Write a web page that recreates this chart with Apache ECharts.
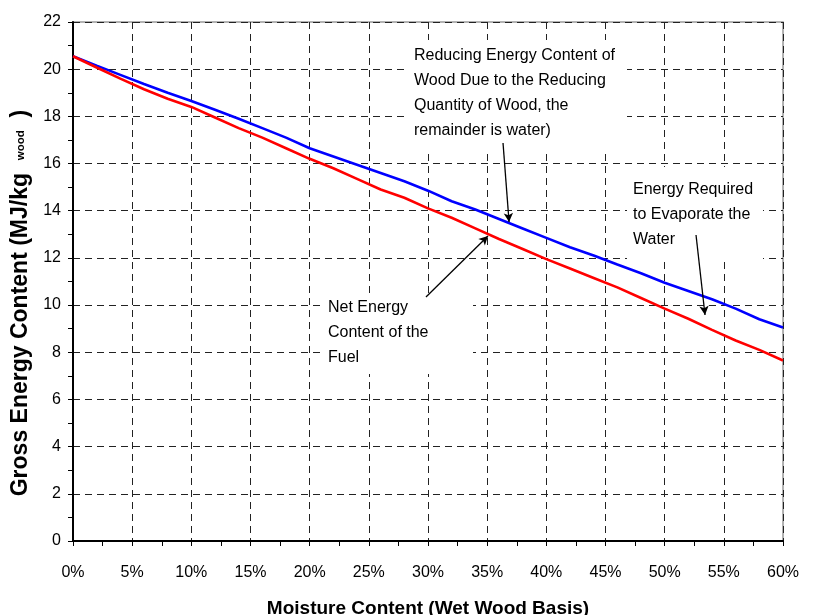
<!DOCTYPE html>
<html>
<head>
<meta charset="utf-8">
<script src="https://cdn.jsdelivr.net/npm/echarts@6/dist/echarts.min.js"></script>
<style>
html,body{margin:0;padding:0;background:#fff;}
#chart{width:814px;height:615px;}
</style>
</head>
<body>
<div id="chart"></div>
<script>
// Moisture content (% wet wood basis)
const moisturePct = [0,2,4,6,8,10,12,14,16,18,20,22,24,26,28,30,32,34,36,38,40,42,44,46,48,50,52,54,56,58,60];
// Gross energy content of the wood (blue), MJ/kg wood
const grossEnergy = [20.55,20.15,19.76,19.37,19.0,18.65,18.28,17.9,17.5,17.1,16.65,16.3,15.95,15.6,15.25,14.85,14.4,14.05,13.65,13.25,12.85,12.45,12.1,11.72,11.35,10.95,10.6,10.25,9.85,9.4,9.05];
// Net energy content of the fuel (red), MJ/kg wood
const netEnergy = [20.55,20.07,19.6,19.15,18.75,18.4,17.95,17.5,17.1,16.65,16.2,15.8,15.35,14.9,14.55,14.1,13.7,13.25,12.8,12.38,11.95,11.55,11.15,10.75,10.3,9.85,9.42,8.95,8.5,8.1,7.65];

// Annotation arrows (data coordinates: [moisture %, MJ/kg])
const arrowReducing = [[36.34,16.87],[36.85,13.52]];
const arrowNet = [[29.83,10.34],[35.07,12.93]];
const arrowEvaporate = [[52.65,12.97],[53.41,9.58]];

// Annotation texts
const noteReducing = ['Reducing Energy Content of','Wood Due to the Reducing','Quantity of Wood, the','remainder is water)'];
const noteNet = ['Net Energy','Content of the','Fuel'];
const noteEvaporate = ['Energy Required','to Evaporate the','Water'];

const FONT = 'Arial, "Liberation Sans", sans-serif';

const chart = echarts.init(document.getElementById('chart'), null, {renderer:'canvas'});

function pairs(xs, ys){ return xs.map((x,i)=>[x, ys[i]]); }

function noteGroup(lines, left, top, box){
  return {
    type:'group',
    z: 5,
    children:[
      {type:'rect', z:5, shape:{x:box[0], y:box[1], width:box[2]-box[0], height:box[3]-box[1]}, style:{fill:'#fff', stroke:null}},
      {type:'text', z:6, x:left, y:top, style:{text:lines.join('\n'), font:'16px '+FONT, fill:'#000', lineHeight:25, align:'left', verticalAlign:'top'}}
    ]
  };
}

const option = {
  animation:false,
  backgroundColor:'#fff',
  grid:{left:73, right:31, top:22, bottom:74, containLabel:false, outerBoundsMode:'none',
        show:true, borderColor:'#999', borderWidth:1.5, backgroundColor:'transparent'},
  xAxis:{
    type:'value', min:0, max:60, interval:5,
    name:'Moisture Content (Wet Wood Basis)',
    nameLocation:'middle', nameGap:58,
    nameTextStyle:{fontFamily:FONT, fontWeight:'bold', fontSize:19, color:'#000'},
    axisLine:{show:true, onZero:false, lineStyle:{color:'#000', width:2}},
    axisTick:{show:true, length:5, lineStyle:{color:'#000', width:1}},
    minorTick:{show:true, splitNumber:2, length:5, lineStyle:{color:'#000', width:1}},
    axisLabel:{formatter:'{value}%', fontFamily:FONT, fontSize:16, color:'#000', margin:24},
    splitLine:{show:true, lineStyle:{color:'#222', width:1, type:[7,5]}}
  },
  yAxis:{
    type:'value', min:0, max:22, interval:2,
    name:'{m|Gross Energy Content (MJ/kg  }{s|wood}{m|  )}',
    nameLocation:'middle', nameGap:34,
    nameTextStyle:{
      padding:[0,43,0,0],
      rich:{
        m:{fontFamily:FONT, fontWeight:'bold', fontSize:23, color:'#000', lineHeight:26},
        s:{fontFamily:FONT, fontWeight:'bold', fontSize:11.5, color:'#000', lineHeight:26, verticalAlign:'middle'}
      }
    },
    axisLine:{show:true, onZero:false, lineStyle:{color:'#000', width:2}},
    axisTick:{show:true, length:5, lineStyle:{color:'#000', width:1}},
    minorTick:{show:true, splitNumber:2, length:5, lineStyle:{color:'#000', width:1}},
    axisLabel:{fontFamily:FONT, fontSize:16, color:'#000', margin:12},
    splitLine:{show:true, lineStyle:{color:'#222', width:1, type:[7,5]}}
  },
  series:[
    {
      name:'Gross Energy Content', type:'line', data:pairs(moisturePct, grossEnergy),
      showSymbol:false, symbol:'none', lineStyle:{color:'#0000ff', width:2.6}, itemStyle:{color:'#0000ff'},
      z:3,
      markLine:{
        silent:true, symbol:['none','arrow'], symbolSize:[7,9],
        lineStyle:{color:'#000', width:1.3, type:'solid'},
        label:{show:false},
        emphasis:{disabled:true},
        data:[
          [{coord:arrowReducing[0]},{coord:arrowReducing[1]}],
          [{coord:arrowNet[0]},{coord:arrowNet[1]}],
          [{coord:arrowEvaporate[0]},{coord:arrowEvaporate[1]}]
        ],
        z:10
      }
    },
    {
      name:'Net Energy Content', type:'line', data:pairs(moisturePct, netEnergy),
      showSymbol:false, symbol:'none', lineStyle:{color:'#ff0000', width:2.6}, itemStyle:{color:'#ff0000'},
      z:3
    }
  ],
  graphic:[
    noteGroup(noteReducing, 414, 43.5, [407,40,627,150]),
    noteGroup(noteNet, 328, 295.5, [323,295,473,374]),
    noteGroup(noteEvaporate, 633, 177, [627,167,763,259])
  ]
};
chart.setOption(option);
</script>
</body>
</html>
